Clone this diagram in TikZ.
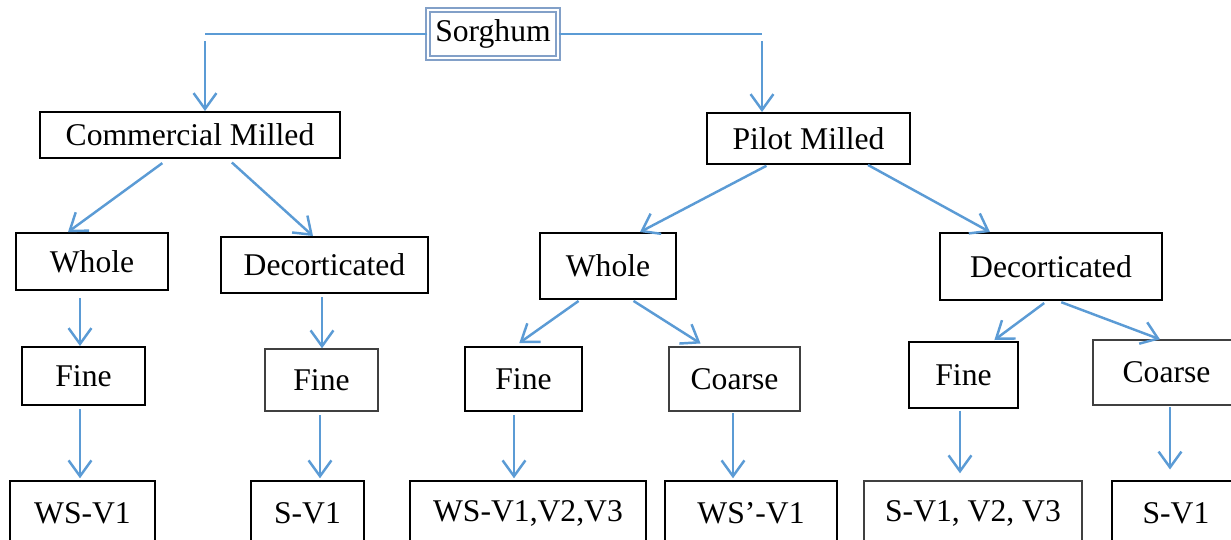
\documentclass[tikz,border=0pt]{standalone}
\usepackage{fontspec}
\setmainfont{Liberation Serif}
\usetikzlibrary{arrows.meta}
\definecolor{arrblue}{RGB}{91,155,213}
\definecolor{rootline}{RGB}{130,160,200}
\begin{document}
\begin{tikzpicture}[x=0.02cm,y=-0.02cm,
		box/.style={draw=black, line width=1.1pt, inner sep=0pt, font=\fontsize{18}{20}\selectfont},
		thinbox/.style={box, draw=black!75, line width=0.8pt},
		root/.style={box, draw=rootline, line width=0.8pt, double=white, double distance=1.6pt},
		arr/.style={draw=arrblue, line width=1.4pt, -{Straight Barb[length=9pt,width=13pt]}}]
			\useasboundingbox (0,0) rectangle (1231,539);
			\clip (0,0) rectangle (1231,539);
			% top
			\node [root, minimum width=2.6cm, minimum height=0.96cm] (S) at (493,34) {Sorghum};
			\node [box, minimum width=6cm, minimum height=0.92cm] (CM) at (190,135) {Commercial Milled};
			\node [box, minimum width=4.06cm, minimum height=1.02cm] (PM) at (808.5,138.5) {Pilot Milled};
			% second row
			\node [box, minimum width=3.04cm, minimum height=1.14cm] (cw) at (92,261.5) {Whole};
			\node [box, minimum width=4.14cm, minimum height=1.12cm] (cd) at (324.5,265) {Decorticated};
			\node [box, minimum width=2.72cm, minimum height=1.32cm] (pw) at (608,266) {Whole};
			\node [box, minimum width=4.44cm, minimum height=1.34cm] (pd) at (1051,266.5) {Decorticated};
			% third row
			\node [box, minimum width=2.46cm, minimum height=1.16cm] (cwf) at (83.5,376) {Fine};
			\node [thinbox, minimum width=2.26cm, minimum height=1.24cm] (cdf) at (321.5,380) {Fine};
			\node [box, minimum width=2.34cm, minimum height=1.28cm] (pwf) at (523.5,379) {Fine};
			\node [thinbox, minimum width=2.62cm, minimum height=1.28cm] (pwc) at (734.5,379) {Coarse};
			\node [box, minimum width=2.18cm, minimum height=1.32cm] (pdf) at (963.5,375) {Fine};
			\node [thinbox, minimum width=2.94cm, minimum height=1.3cm] (pdc) at (1166.5,372.5) {Coarse};
			% bottom row
			\node [box, minimum width=2.9cm, minimum height=1.28cm] (cwfv) at (82.5,513) {WS-V1};
			\node [box, minimum width=2.26cm, minimum height=1.28cm] (cdfv) at (307.5,513) {S-V1};
			\node [box, minimum width=4.72cm, minimum height=1.28cm] (pwfv) at (528,513) {WS-V1,V2,V3};
			\node [box, minimum width=3.44cm, minimum height=1.28cm] (pwcv) at (751,513) {WS’-V1};
			\node [thinbox, minimum width=4.36cm, minimum height=1.28cm] (pdfv) at (973,513) {S-V1, V2, V3};
			\node [box, minimum width=2.56cm, minimum height=1.28cm] (pdcv) at (1176,513) {S-V1};
			% branches
			\draw [draw=arrblue, line width=1pt] (S.west) -- (S.west -| 205,0) coordinate (jl);
			\draw [draw=arrblue, line width=1pt] (S.east) -- (S.east -| 762,0) coordinate (jr);
			\draw [arr] ([yshift=-4pt]jl) -- (jl |- CM.north);
			\draw [arr] ([yshift=-4pt]jr) -- (jr |- PM.north);
			\draw [arr, shorten <=4pt] (CM.south -| 168,0) -- (cw.north -| 68,0);
			\draw [arr, shorten <=3pt] (CM.south -| 228,0) -- (cd.north -| 313,0);
			\draw [arr, shorten <=1pt] (PM.south -| 768,0) -- (pw.north -| 640,0);
			\draw [arr] (PM.south -| 868,0) -- (pd.north -| 990,0);
			\draw [arr, shorten <=4pt] (cw.south -| 80,0) -- (cwf.north -| 80,0);
			\draw [arr, shorten <=2pt] (cd.south -| 322,0) -- (cdf.north -| 322,0);
			\draw [arr, shorten <=1pt, shorten >=3pt] (pw.south -| 580,0) -- (pwf.north -| 515,0);
			\draw [arr, shorten <=1pt, shorten >=3pt] (pw.south -| 632,0) -- (pwc.north -| 705,0);
			\draw [arr, shorten <=2pt, shorten >=1pt] (pd.south -| 1047,0) -- (pdf.north -| 993,0);
			\draw [arr, shorten <=2pt] (pd.south -| 1058,0) -- (pdc.north -| 1160,0);
			\draw [arr, shorten <=2pt, shorten >=1pt] (cwf.south -| 80,0) -- (cwfv.north -| 80,0);
			\draw [arr, shorten <=2pt, shorten >=1pt] (cdf.south -| 320,0) -- (cdfv.north -| 320,0);
			\draw [arr, shorten <=2pt, shorten >=1pt] (pwf.south -| 514,0) -- (pwfv.north -| 514,0);
			\draw [arr, shorten <=1pt, shorten >=1pt] (pwc.south -| 733,0) -- (pwcv.north -| 733,0);
			\draw [arr, shorten <=1pt, shorten >=4pt] (pdf.south -| 960,0) -- (pdfv.north -| 960,0);
			\draw [arr, shorten <=1pt, shorten >=6pt] (pdc.south -| 1170,0) -- (pdcv.north -| 1170,0);
		\end{tikzpicture}
\end{document}
